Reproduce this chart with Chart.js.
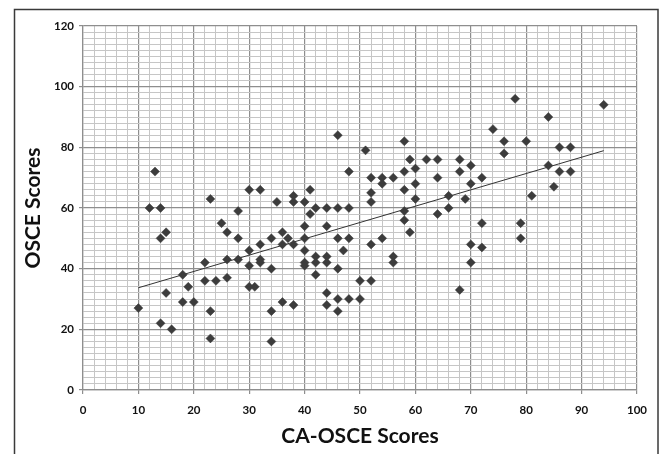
<!DOCTYPE html>
<html>
<head>
<meta charset="utf-8">
<script src="https://cdn.jsdelivr.net/npm/chart.js@4"></script>
<style>
  html, body { margin: 0; padding: 0; background: #fff; }
  #wrap { width: 660px; height: 454px; }
</style>
</head>
<body>
<div id="wrap"><canvas id="scatter" width="660" height="454"></canvas></div>
<script>
// CA-OSCE score (x) and OSCE score (y) for each student
const caOsce = [10, 12, 13, 14, 14, 14, 15, 15, 16, 18, 18, 19, 20, 22, 22, 23, 23, 23, 24, 25,
    26, 26, 26, 28, 28, 28, 30, 30, 30, 30, 31, 32, 32, 32, 32, 34, 34, 34, 34, 35,
    36, 36, 36, 37, 38, 38, 38, 38, 40, 40, 40, 40, 40, 40, 41, 41, 42, 42, 42, 42,
    44, 44, 44, 44, 44, 44, 46, 46, 46, 46, 46, 46, 47, 48, 48, 48, 48, 50, 50, 51,
    52, 52, 52, 52, 52, 54, 54, 54, 56, 56, 56, 58, 58, 58, 58, 58, 59, 59, 60, 60,
    60, 62, 64, 64, 64, 66, 66, 68, 68, 68, 69, 70, 70, 70, 70, 72, 72, 72, 74, 76,
    76, 78, 79, 79, 80, 81, 84, 84, 85, 86, 86, 88, 88, 94];
const osce = [27, 60, 72, 60, 50, 22, 52, 32, 20, 38, 29, 34, 29, 42, 36, 63, 26, 17, 36, 55,
    52, 43, 37, 59, 50, 43, 66, 46, 41, 34, 34, 66, 48, 43, 42, 50, 40, 26, 16, 62,
    52, 48, 29, 50, 64, 62, 48, 28, 62, 54, 50, 46, 42, 41, 66, 58, 60, 44, 42, 38,
    60, 54, 44, 42, 32, 28, 84, 60, 50, 40, 30, 26, 46, 72, 60, 50, 30, 36, 30, 79,
    70, 65, 62, 48, 36, 70, 68, 50, 70, 44, 42, 82, 72, 66, 59, 56, 76, 52, 73, 68,
    63, 76, 76, 70, 58, 64, 60, 76, 72, 33, 63, 74, 68, 48, 42, 70, 55, 47, 86, 82,
    78, 96, 55, 50, 82, 64, 90, 74, 67, 80, 72, 80, 72, 94];

// linear trend line, ends
const trendX = [10, 94];
const trendY = [33.7, 78.9];

const xMax = 100, xMajor = 10;
const yMax = 120, yMajor = 20;
const minorStep = 2;

const MAJOR = '#8e8e8e';
const MINOR = '#c6c6c6';
const MARK = '#3c3c3c';

const FONT = 'Lato, "Open Sans", sans-serif';

function toPoints(xs, ys) {
    return xs.map((x, i) => ({ x: x, y: ys[i] }));
}

// white page + the thin box round the whole chart
const framePlugin = {
    id: 'frame',
    beforeDraw(chart) {
        const ctx = chart.ctx;
        ctx.save();
        ctx.fillStyle = '#fff';
        ctx.fillRect(0, 0, chart.width, chart.height);
        ctx.strokeStyle = '#3a3a3a';
        ctx.lineWidth = 1.5;
        ctx.strokeRect(14.5, 9.5, 643.5, chart.height + 10);
        ctx.restore();
    }
};

function axis(max, major, title, isX) {
    const isMajor = (c) => c.tick && c.tick.value % major === 0;
    return {
        type: 'linear',
        min: 0,
        max: max,
        afterFit: (s) => { if (isX) s.height = 64; else s.width = 83; },
        border: { display: true, color: MAJOR, width: 1.2 },
        grid: {
            color: (c) => isMajor(c) ? MAJOR : MINOR,
            tickColor: (c) => isMajor(c) ? MAJOR : 'rgba(0,0,0,0)',
            lineWidth: (c) => isMajor(c) ? 1.2 : 1,
            tickLength: 4
        },
        ticks: {
            stepSize: minorStep,
            autoSkip: false,
            maxRotation: 0,
            padding: isX ? 9 : 5,
            color: '#111',
            font: { family: FONT, size: 11.5, weight: 'bold' },
            callback: (v) => v % major === 0 ? v : ''
        },
        title: {
            display: true,
            text: title,
            color: '#111',
            font: { family: FONT, size: 21, weight: 'bold' },
            padding: isX ? { top: 0, bottom: 5 } : { top: 21, bottom: 0 }
        }
    };
}

new Chart(document.getElementById('scatter'), {
    type: 'scatter',
    data: {
        datasets: [
            {
                label: 'Students',
                data: toPoints(caOsce, osce),
                pointStyle: 'rectRot',
                pointRadius: 4.5,
                pointHoverRadius: 4.5,
                backgroundColor: MARK,
                borderColor: MARK,
                borderWidth: 0.5
            },
            {
                type: 'line',
                label: 'Trend',
                data: toPoints(trendX, trendY),
                borderColor: '#333',
                borderWidth: 1,
                pointRadius: 0,
                fill: false
            }
        ]
    },
    options: {
        responsive: false,
        animation: false,
        events: [],
        layout: { padding: { top: 26, right: 23, left: 0, bottom: 0 } },
        plugins: {
            legend: { display: false },
            tooltip: { enabled: false }
        },
        scales: {
            x: axis(xMax, xMajor, 'CA-OSCE Scores', true),
            y: axis(yMax, yMajor, 'OSCE Scores', false)
        }
    },
    plugins: [framePlugin]
});
</script>
</body>
</html>
